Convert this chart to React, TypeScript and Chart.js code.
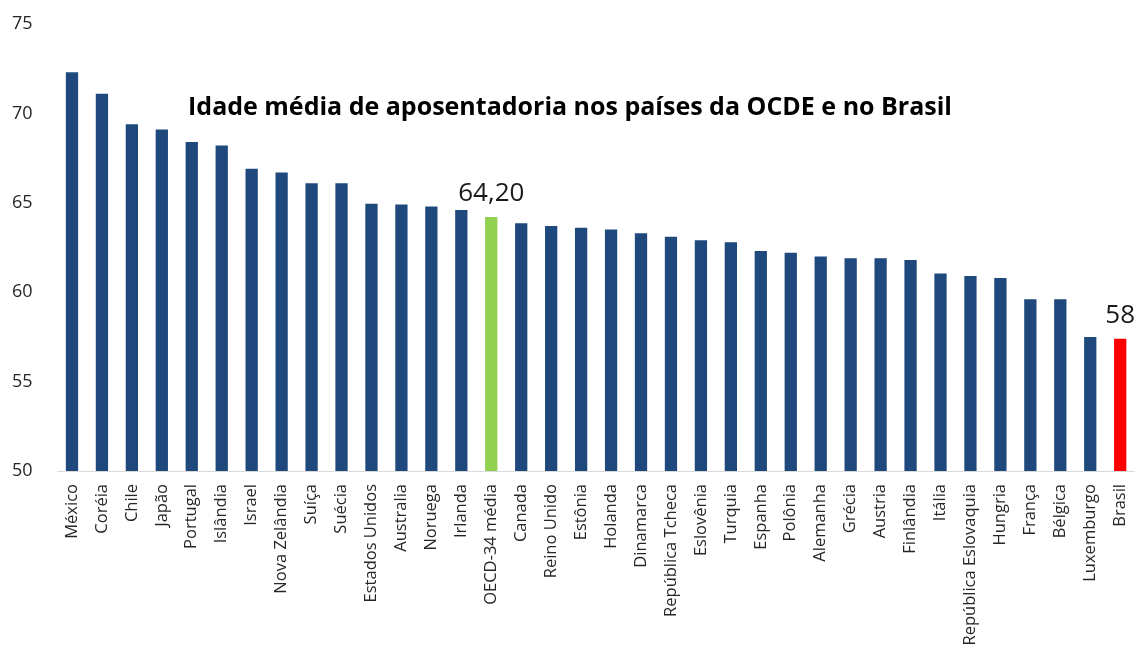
import React, { useEffect, useRef } from 'react';
import { Chart, registerables } from 'chart.js';

Chart.register(...registerables);

const categories = [
  'México', 'Coréia', 'Chile', 'Japão', 'Portugal', 'Islândia', 'Israel', 'Nova Zelândia',
  'Suíça', 'Suécia', 'Estados Unidos', 'Australia', 'Noruega', 'Irlanda', 'OECD-34 média',
  'Canada', 'Reino Unido', 'Estônia', 'Holanda', 'Dinamarca', 'República Tcheca', 'Eslovênia',
  'Turquia', 'Espanha', 'Polônia', 'Alemanha', 'Grécia', 'Austria', 'Finlândia', 'Itália',
  'República Eslovaquia', 'Hungria', 'França', 'Bélgica', 'Luxemburgo', 'Brasil',
];

const values = [
  72.3, 71.1, 69.4, 69.1, 68.4, 68.2, 66.9, 66.7,
  66.1, 66.1, 64.95, 64.9, 64.8, 64.6, 64.2,
  63.85, 63.7, 63.6, 63.5, 63.3, 63.1, 62.9,
  62.8, 62.3, 62.2, 62.0, 61.9, 61.9, 61.8, 61.05,
  60.9, 60.8, 59.6, 59.6, 57.5, 57.4,
];

const averageCategory = 'OECD-34 média';
const brazilCategory = 'Brasil';
const valueLabelCategories = ['OECD-34 média', 'Brasil'];
const valueLabelTexts = ['64,20', '58'];

const yMin = 50;
const yMax = 75;
const yStep = 5;

const chartTitle = 'Idade média de aposentadoria nos países da OCDE e no Brasil';

const NAVY = '#1F497D';
const GREEN = '#92D050';
const RED = '#FF0000';
const FONT = '"Open Sans", "Noto Sans", sans-serif';

export default function App() {
  const ref = useRef<HTMLCanvasElement | null>(null);

  useEffect(() => {
    if (!ref.current) return;
    const colors = categories.map((c) =>
      c === averageCategory ? GREEN : c === brazilCategory ? RED : NAVY
    );

    const overlay = {
      id: 'overlay',
      afterDatasetsDraw(chart: any) {
        const ctx = chart.ctx;
        const meta = chart.getDatasetMeta(0);
        ctx.save();
        ctx.font = `26px ${FONT}`;
        ctx.fillStyle = '#1a1a1a';
        ctx.textAlign = 'center';
        ctx.textBaseline = 'alphabetic';
        valueLabelCategories.forEach((cat, k) => {
          const i = categories.indexOf(cat);
          const el = meta.data[i];
          if (!el) return;
          ctx.fillText(valueLabelTexts[k], el.x, el.y - 16);
        });
        ctx.font = `bold 25px ${FONT}`;
        ctx.fillStyle = '#000000';
        ctx.textAlign = 'center';
        ctx.fillText(chartTitle, 570, 115);
        ctx.restore();
      },
    };

    const chart = new Chart(ref.current, {
      type: 'bar',
      data: {
        labels: categories,
        datasets: [
          {
            data: values,
            backgroundColor: colors,
            borderWidth: 0,
            barPercentage: 0.41,
            categoryPercentage: 1,
          },
        ],
      },
      options: {
        responsive: false,
        animation: false,
        layout: { padding: { top: 24, right: 0, left: 12, bottom: 0 } },
        plugins: {
          legend: { display: false },
          tooltip: { enabled: false },
          title: { display: false },
        },
        scales: {
          x: {
            grid: { display: false, drawTicks: true, tickLength: 13 },
            border: { display: true, color: '#d9d9d9', width: 1 },
            ticks: {
              autoSkip: false,
              maxRotation: 90,
              minRotation: 90,
              padding: 0,
              color: '#262626',
              font: { family: FONT, size: 16.5 },
            },
            afterFit(scale: any) {
              scale.height = 178;
            },
          },
          y: {
            min: yMin,
            max: yMax,
            grid: { display: false, drawTicks: false },
            border: { display: false },
            ticks: {
              stepSize: yStep,
              padding: 0,
              crossAlign: 'far',
              color: '#262626',
              font: { family: FONT, size: 18 },
            },
            afterFit(scale: any) {
              scale.width = 45;
            },
          },
        },
      },
      plugins: [overlay],
    });

    return () => chart.destroy();
  }, []);

  return (
    <div style={{ position: 'absolute', left: 0, top: 0, width: 1135, height: 649, overflow: 'hidden' }}>
      <canvas ref={ref} width={1140} height={649} style={{ display: 'block' }} />
    </div>
  );
}
